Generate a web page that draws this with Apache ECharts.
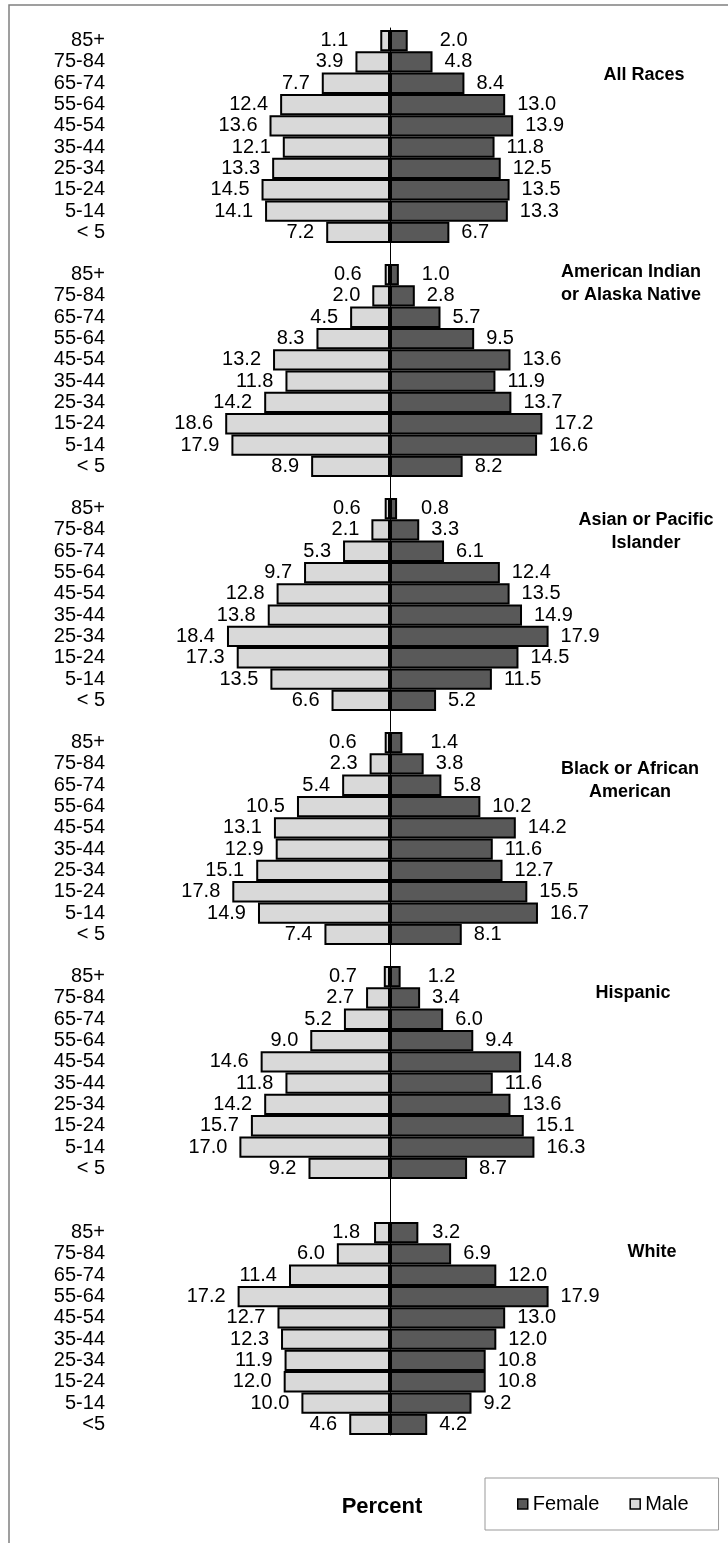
<!DOCTYPE html>
<html>
<head>
<meta charset="utf-8">
<script src="https://cdn.jsdelivr.net/npm/echarts@6/dist/echarts.min.js"></script>
<style>
  html, body { margin: 0; padding: 0; background: #fff; }
  #main { width: 728px; height: 1543px; }
</style>
</head>
<body>
<div id="main"></div>
<script>
// age groups, top to bottom
const ageGroups = ["85+", "75-84", "65-74", "55-64", "45-54", "35-44", "25-34", "15-24", "5-14", "< 5"];
const ageGroupsWhite = ["85+", "75-84", "65-74", "55-64", "45-54", "35-44", "25-34", "15-24", "5-14", "<5"];

const allRacesMale = [1.1, 3.9, 7.7, 12.4, 13.6, 12.1, 13.3, 14.5, 14.1, 7.2];
const allRacesFemale = [2.0, 4.8, 8.4, 13.0, 13.9, 11.8, 12.5, 13.5, 13.3, 6.7];
const aianMale = [0.6, 2.0, 4.5, 8.3, 13.2, 11.8, 14.2, 18.6, 17.9, 8.9];
const aianFemale = [1.0, 2.8, 5.7, 9.5, 13.6, 11.9, 13.7, 17.2, 16.6, 8.2];
const apiMale = [0.6, 2.1, 5.3, 9.7, 12.8, 13.8, 18.4, 17.3, 13.5, 6.6];
const apiFemale = [0.8, 3.3, 6.1, 12.4, 13.5, 14.9, 17.9, 14.5, 11.5, 5.2];
const blackMale = [0.6, 2.3, 5.4, 10.5, 13.1, 12.9, 15.1, 17.8, 14.9, 7.4];
const blackFemale = [1.4, 3.8, 5.8, 10.2, 14.2, 11.6, 12.7, 15.5, 16.7, 8.1];
const hispanicMale = [0.7, 2.7, 5.2, 9.0, 14.6, 11.8, 14.2, 15.7, 17.0, 9.2];
const hispanicFemale = [1.2, 3.4, 6.0, 9.4, 14.8, 11.6, 13.6, 15.1, 16.3, 8.7];
const whiteMale = [1.8, 6.0, 11.4, 17.2, 12.7, 12.3, 11.9, 12.0, 10.0, 4.6];
const whiteFemale = [3.2, 6.9, 12.0, 17.9, 13.0, 12.0, 10.8, 10.8, 9.2, 4.2];

const raceTitles = ["All Races", "American Indian\nor Alaska Native", "Asian or Pacific\nIslander",
  "Black or African\nAmerican", "Hispanic", "White"];

// layout
const FONT = "Liberation Sans, Arial, sans-serif";
const gridLeft = 212.8, gridRight = 160.8;
const panelTops = [30, 264, 498, 732, 966, 1222];
const panelHeight = 213;
const titlePos = [[644, 63.5], [631, 260.5], [646, 508.5], [630, 757.5], [633, 981.5], [652, 1240.5]];
const topRowGap = [32, 23, 24, 28, 27, 14];

const panels = [
  { cats: ageGroups, male: allRacesMale, female: allRacesFemale },
  { cats: ageGroups, male: aianMale, female: aianFemale },
  { cats: ageGroups, male: apiMale, female: apiFemale },
  { cats: ageGroups, male: blackMale, female: blackFemale },
  { cats: ageGroups, male: hispanicMale, female: hispanicFemale },
  { cats: ageGroupsWhite, male: whiteMale, female: whiteFemale },
];

var chart = echarts.init(document.getElementById("main"));

var grids = [], xAxes = [], yAxes = [], series = [], titles = [];

panels.forEach(function (p, i) {
  grids.push({ left: gridLeft, right: gridRight, top: panelTops[i], height: panelHeight });
  xAxes.push({ gridIndex: i, type: "value", min: -20, max: 20, show: false });
  yAxes.push({
    gridIndex: i,
    type: "category",
    data: p.cats,
    inverse: true,
    axisLine: { show: false, onZero: false },
    axisTick: { show: false },
    axisLabel: { interval: 0, margin: gridLeft - 105, color: "#000", fontSize: 20, fontFamily: FONT },
  });
  var lbl = { show: true, color: "#000", fontSize: 20, fontFamily: FONT, distance: 12,
    formatter: function (q) { return Math.abs(q.value).toFixed(1); } };
  series.push({
    name: "Male", type: "bar", xAxisIndex: i, yAxisIndex: i, stack: "s" + i,
    barCategoryGap: "0%",
    itemStyle: { color: "#d9d9d9", borderColor: "#000", borderWidth: 2 },
    label: Object.assign({ position: "left" }, lbl),
    data: p.male.map(function (v, k) {
      return k === 0 ? { value: -v, label: { distance: topRowGap[i] } } : -v;
    }),
  });
  series.push({
    name: "Female", type: "bar", xAxisIndex: i, yAxisIndex: i, stack: "s" + i,
    barCategoryGap: "0%",
    itemStyle: { color: "#595959", borderColor: "#000", borderWidth: 2 },
    label: Object.assign({ position: "right" }, lbl),
    data: p.female.map(function (v, k) {
      return k === 0 ? { value: v, label: { distance: topRowGap[i] } } : v;
    }),
  });
  titles.push({
    text: raceTitles[i], left: titlePos[i][0], top: titlePos[i][1], textAlign: "center", padding: 0,
    textStyle: { fontSize: 18, fontWeight: "bold", color: "#000", fontFamily: FONT, lineHeight: 23 },
  });
});

// full-height center line
grids.push({ left: 390, width: 1, top: 28, bottom: 1543 - 1435 });
xAxes.push({ gridIndex: 6, type: "value", show: false });
yAxes.push({
  gridIndex: 6, type: "value", min: 0, max: 1,
  axisLine: { show: true, onZero: false, lineStyle: { color: "#000", width: 1 } },
  axisTick: { show: false }, axisLabel: { show: false }, splitLine: { show: false },
});

titles.push({
  text: "Percent", left: 382, top: 1496, textAlign: "center", padding: 0,
  textStyle: { fontSize: 22, fontWeight: "bold", color: "#000", fontFamily: FONT },
});

var option = {
  animation: false,
  title: titles,
  grid: grids,
  xAxis: xAxes,
  yAxis: yAxes,
  legend: {
    data: ["Female", "Male"],
    left: 485, top: 1478,
    padding: [16, 30, 16, 32],
    borderColor: "#999", borderWidth: 1,
    itemWidth: 10, itemHeight: 10, itemGap: 30,
    icon: "rect",
    itemStyle: { borderColor: "#000", borderWidth: 1.5 },
    textStyle: { fontSize: 20, color: "#000", fontFamily: FONT },
  },
  graphic: [{
    type: "rect", silent: true,
    shape: { x: 9, y: 5, width: 740, height: 1560 },
    style: { fill: "none", stroke: "#808080", lineWidth: 1.5 },
  }],
  series: series,
};

option && chart.setOption(option);
</script>
</body>
</html>
